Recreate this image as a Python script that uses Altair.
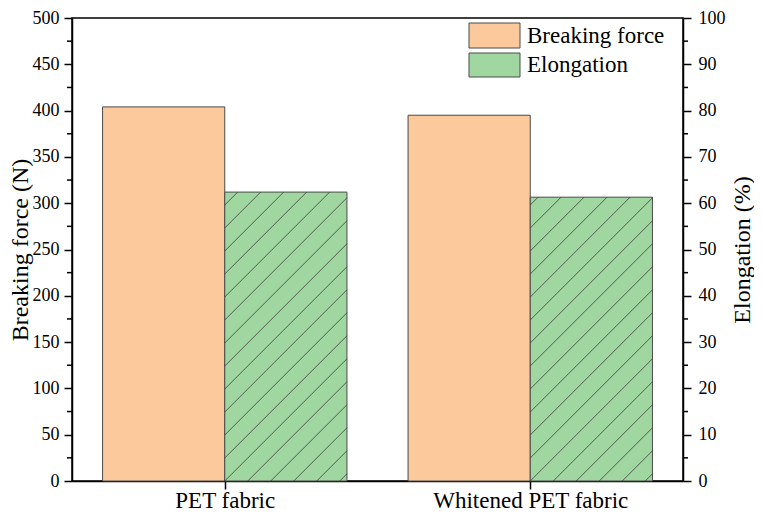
import altair as alt
import pandas as pd
import numpy as np

# ---- data ----
categories = ["PET fabric", "Whitened PET fabric"]
breaking_force = [404, 395]      # N
elongation = [62.4, 61.3]        # %
series = ["Breaking force", "Elongation"]
force_ticks = list(range(0, 501, 50))
force_minor = list(range(25, 500, 50))
elong_ticks = list(range(0, 101, 10))
elong_minor = list(range(5, 100, 10))

# ---- layout / style ----
W, H = 611, 463
PAD = {"left": 64, "top": 10, "right": 71, "bottom": 30}
ORANGE = "#fbc99b"
GREEN = "#a0d6a0"
EDGE = "#4a4a4a"
HATCH = "#3c3c3c"
FONT = "Liberation Serif"
BAR = 0.4
SPACING = 23.0
n = len(categories)
UX = W / n  # pixels per x unit

centers = np.arange(n) + 0.5
df_force = pd.DataFrame({"cat": categories, "x0": centers - BAR, "x1": centers, "force": breaking_force})
df_el = pd.DataFrame({"cat": categories, "x0": centers, "x1": centers + BAR, "el": elongation})


def hatch_segments(px0, px1, py0, py1):
    """45-degree hatch lines clipped to a pixel rectangle (y measured upward)."""
    segs = []
    h = py1 - py0
    kmin = -int(np.ceil(h / SPACING)) - 1
    kmax = int(np.ceil((px1 - px0) / SPACING)) + 1
    for k in range(kmin, kmax + 1):
        b = px0 + k * SPACING
        xs = max(px0, b)
        xe = min(px1, b + h)
        if xe - xs > 0.8:
            segs.append((xs, py0 + xs - b, xe, py0 + xe - b))
    return segs


rows = []
for x0, x1, v in zip(df_el["x0"], df_el["x1"], df_el["el"]):
    for a, b, c, d in hatch_segments(x0 * UX, x1 * UX, 0, v / 100 * H):
        rows.append({"hx0": a / UX, "hy0": b / H * 100, "hx1": c / UX, "hy1": d / H * 100})

# legend (pixel positions inside plot, converted to data units)
leg_px = [(397, 448, 5, 30), (397, 448, 35, 59)]
leg_rows = []
for name, col, (a, b, c, d) in zip(series, [ORANGE, GREEN], leg_px):
    leg_rows.append({"name": name, "color": col,
                     "lx0": a / UX, "lx1": b / UX,
                     "ly0": (H - d) / H * 100, "ly1": (H - c) / H * 100,
                     "tx": (b + 7) / UX, "ty": (H - (c + d) / 2) / H * 100})
df_leg = pd.DataFrame(leg_rows)
a, b, c, d = leg_px[1]
for s in hatch_segments(a, b, H - d, H - c):
    rows.append({"hx0": s[0] / UX, "hy0": s[1] / H * 100, "hx1": s[2] / UX, "hy1": s[3] / H * 100})
df_hatch = pd.DataFrame(rows)

xscale = alt.Scale(domain=[0, n], nice=False, zero=False)
yF = alt.Scale(domain=[0, 500], nice=False)
yE = alt.Scale(domain=[0, 100], nice=False)

label_expr = "[" + ",".join("'" + c + "'" for c in categories) + "][floor(datum.value)]"
xaxis = alt.Axis(values=list(centers), labelExpr=label_expr, title=None, labelFont=FONT,
                 labelFontSize=23, labelPadding=0, tickSize=8, labelLimit=0)

orange = alt.Chart(df_force).mark_rect(fill=ORANGE, stroke=EDGE, strokeWidth=1).encode(
    x=alt.X("x0:Q", scale=xscale, axis=xaxis),
    x2="x1:Q",
    y=alt.Y("force:Q", scale=yF,
            axis=alt.Axis(orient="left", values=force_ticks, title="Breaking force (N)",
                          labelFont=FONT, labelFontSize=18, labelPadding=5,
                          titleFont=FONT, titleFontSize=24, titleAngle=270,
                          titleX=-52, titleY=H / 2, titleAlign="center", titleBaseline="middle")),
    y2=alt.datum(0),
)

minor_left = alt.Chart(pd.DataFrame({"v": force_minor})).mark_rule(color="black", strokeWidth=1.5).encode(
    x=alt.value(-5), x2=alt.value(0),
    y=alt.Y("v:Q", scale=yF, axis=None),
)

green = alt.Chart(df_el).mark_rect(fill=GREEN, stroke=EDGE, strokeWidth=1).encode(
    x=alt.X("x0:Q", scale=xscale, axis=xaxis),
    x2="x1:Q",
    y=alt.Y("el:Q", scale=yE,
            axis=alt.Axis(orient="right", values=elong_ticks, title="Elongation (%)",
                          labelFont=FONT, labelFontSize=18, labelPadding=7,
                          titleFont=FONT, titleFontSize=24, titleAngle=270,
                          titleX=59, titleY=H / 2, titleAlign="center", titleBaseline="middle")),
    y2=alt.datum(0),
)

minor_right = alt.Chart(pd.DataFrame({"v": elong_minor})).mark_rule(color="black", strokeWidth=1.5).encode(
    x=alt.value(W), x2=alt.value(W + 5),
    y=alt.Y("v:Q", scale=yE, axis=None),
)

leg_rect = alt.Chart(df_leg).mark_rect(stroke=EDGE, strokeWidth=1).encode(
    x=alt.X("lx0:Q", scale=xscale, axis=xaxis),
    x2="lx1:Q",
    y=alt.Y("ly0:Q", scale=yE, axis=None),
    y2="ly1:Q",
    fill=alt.Fill("color:N", scale=None),
)

hatch = alt.Chart(df_hatch).mark_rule(color=HATCH, strokeWidth=0.8).encode(
    x=alt.X("hx0:Q", scale=xscale, axis=xaxis),
    x2="hx1:Q",
    y=alt.Y("hy0:Q", scale=yE, axis=None),
    y2="hy1:Q",
)

leg_text = alt.Chart(df_leg).mark_text(align="left", baseline="middle", font=FONT,
                                       fontSize=23, color="black").encode(
    x=alt.X("tx:Q", scale=xscale, axis=xaxis),
    y=alt.Y("ty:Q", scale=yE, axis=None),
    text="name:N",
)

chart = alt.layer(orange, minor_left, green, hatch, minor_right, leg_rect, leg_text).resolve_scale(
    y="independent"
).properties(
    width=W, height=H, background="white",
    autosize=alt.AutoSizeParams(type="none"),
    padding=PAD,
).configure(
    font=FONT
).configure_view(
    stroke="black", strokeWidth=1.5
).configure_axis(
    grid=False, domainColor="black", domainWidth=1.5, tickColor="black", tickWidth=1.5,
    tickSize=8, labelFont=FONT, labelColor="black",
    titleFont=FONT, titleFontWeight="normal", titleColor="black",
)

chart.save("out.html", embed_options={"renderer": "svg", "actions": False})
